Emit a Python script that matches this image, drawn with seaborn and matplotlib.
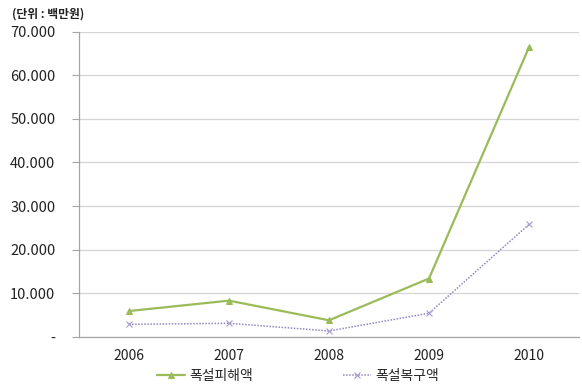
import pandas as pd
import numpy as np
import matplotlib
matplotlib.use("Agg")
import matplotlib.pyplot as plt
from matplotlib.ticker import FuncFormatter, FixedLocator
import seaborn as sns

years = ["2006", "2007", "2008", "2009", "2010"]
damage = [5950, 8330, 3830, 13400, 66400]
recovery = [2900, 3140, 1380, 5450, 25800]
series_names = ["폭설피해액", "폭설복구액"]
y_ticks = [0, 10000, 20000, 30000, 40000, 50000, 60000, 70000]

df = pd.DataFrame({
    "year": years * 2,
    "value": damage + recovery,
    "series": [series_names[0]] * len(years) + [series_names[1]] * len(years),
})

sns.set_theme(style="white")
plt.rcParams["font.family"] = ["Noto Sans CJK KR", "DejaVu Sans"]

fig = plt.figure(figsize=(5.82, 3.84), dpi=100)
ax = fig.add_axes([79 / 582, 47 / 384, 500 / 582, 305.5 / 384])

green = "#9BBB59"
purple = "#9486BE"

sns.lineplot(data=df[df["series"] == series_names[0]], x="year", y="value",
             color=green, linewidth=1.6, marker="^", markersize=4,
             markeredgecolor=green, ax=ax, label=series_names[0])
sns.lineplot(data=df[df["series"] == series_names[1]], x="year", y="value",
             color=purple, linewidth=1.1, linestyle=(0, (1, 1)), marker="x",
             markersize=4, markeredgewidth=0.8, markeredgecolor="#A89CCB",
             ax=ax, label=series_names[1])

ax.set_xlim(-0.5, 4.5)
ax.set_ylim(0, 70000)
ax.set_yticks(y_ticks)
ax.yaxis.set_major_formatter(FuncFormatter(
    lambda v, p: "-" if v == 0 else f"{int(v):,}".replace(",", ".")))
ax.xaxis.set_minor_locator(FixedLocator(np.arange(0.5, 5, 1.0)))
ax.tick_params(axis="x", which="major", length=0, pad=9, labelsize=10, colors="#222222")
ax.tick_params(axis="x", which="minor", length=5, width=0.8, color="#A6A6A6", direction="out")
ax.tick_params(axis="y", length=5, width=0.8, color="#A6A6A6", pad=12, labelsize=10.5,
               colors="#222222", left=True)

ax.grid(axis="y", color="#D4D4D4", linewidth=0.9)
ax.set_axisbelow(True)
for side in ["top", "right"]:
    ax.spines[side].set_visible(False)
for side in ["left", "bottom"]:
    ax.spines[side].set_color("#A6A6A6")
    ax.spines[side].set_linewidth(0.9)

ax.set_xlabel("")
ax.set_ylabel("")

handles, labels = ax.get_legend_handles_labels()
ax.get_legend().remove()
fig.legend(handles, labels, loc="center", bbox_to_anchor=(298 / 582, 1 - 376 / 384),
           ncol=2, frameon=False, fontsize=10, handlelength=2.0, handletextpad=0.3,
           columnspacing=6.5, borderpad=0, borderaxespad=0)

fig.text(12 / 582, 1 - 14 / 384, "(단위 : 백만원)", fontsize=8.5, fontweight="bold",
         va="center", ha="left", color="#222222")

fig.savefig("out.png", dpi=100)
